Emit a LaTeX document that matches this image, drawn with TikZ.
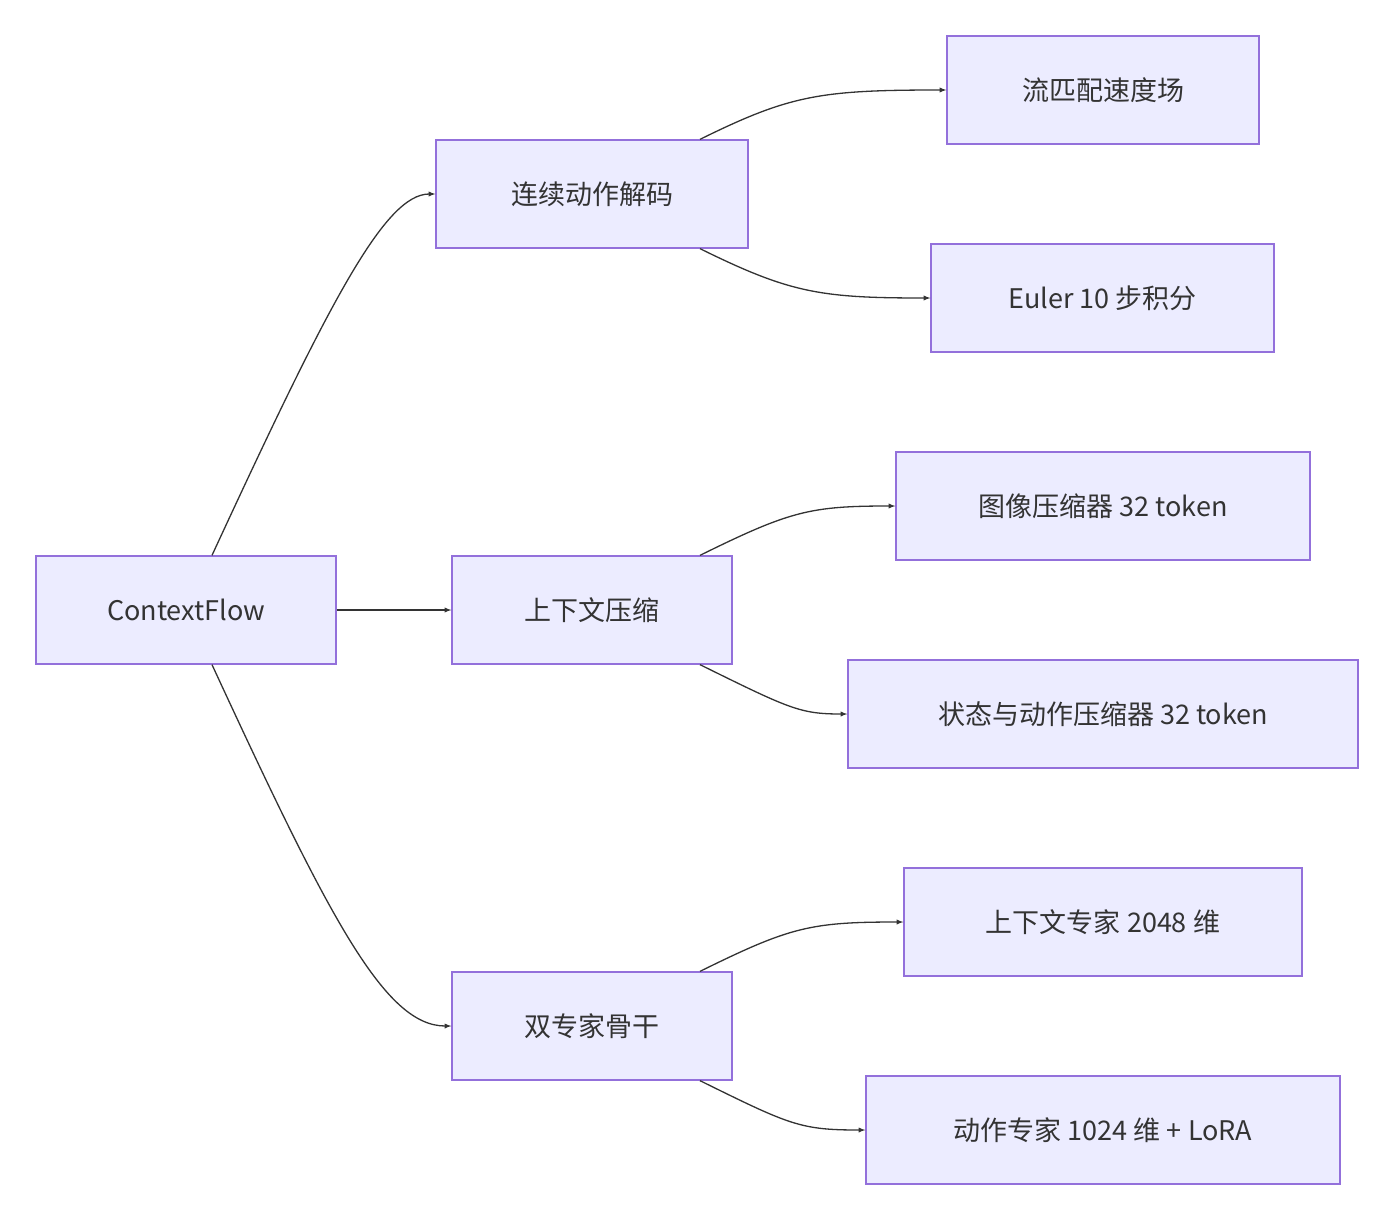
\documentclass[tikz,border=0pt]{standalone}
\usepackage{fontspec}
\setmainfont{Noto Sans CJK SC}
\usetikzlibrary{arrows,positioning}
\definecolor{boxfill}{HTML}{ECECFF}
\definecolor{boxline}{HTML}{9370DB}
\definecolor{linkcol}{HTML}{333333}
\begin{document}
\begin{tikzpicture}[x=1pt,y=-1pt]
	\tikzstyle{item}
	  =[draw=boxline, fill=boxfill, line width=1.3pt, rectangle,
	  minimum height=108pt, inner sep=0pt, text=linkcol,
	  font=\fontsize{27}{32}\selectfont]
	\tikzstyle{link}
	  =[-latex, draw=linkcol, line width=1.3pt]
	\useasboundingbox (0,0) rectangle (1394,1220);

	\node[item, minimum width=300pt] (cf)
	  at (186,610) {ContextFlow};
	\node[item, minimum width=312pt] (dec)
	  at (592,194) {连续动作解码};
	\node[item, minimum width=280pt] (ctx)
	  at (592,610) {上下文压缩};
	\node[item, minimum width=280pt] (bb)
	  at (592,1026) {双专家骨干};

	\node[item, minimum width=312pt] (flow)
	  at (1103,90) {流匹配速度场};
	\node[item, minimum width=343pt] (euler)
	  at (1102.5,298) {Euler 10 步积分};
	\node[item, minimum width=414pt] (img)
	  at (1103,506) {图像压缩器 32 token};
	\node[item, minimum width=510pt] (state)
	  at (1103,714) {状态与动作压缩器 32 token};
	\node[item, minimum width=398pt] (cexp)
	  at (1103,922) {上下文专家 2048 维};
	\node[item, minimum width=474pt] (aexp)
	  at (1103,1130) {动作专家 1024 维 + LoRA};

	\draw[link] ([xshift=26pt]cf.north) .. controls (330,300) and (385,194) .. (dec.west);
	\draw[link] (cf.east) -- (ctx.west);
	\draw[link] ([xshift=26pt]cf.south) .. controls (330,920) and (385,1026) .. (bb.west);

	\draw[link] ([xshift=108pt]dec.north) .. controls (790,95) and (820,90) .. (flow.west);
	\draw[link] ([xshift=108pt]dec.south) .. controls (790,293) and (820,298) .. (euler.west);
	\draw[link] ([xshift=108pt]ctx.north) .. controls (790,511) and (810,506) .. (img.west);
	\draw[link] ([xshift=108pt]ctx.south) .. controls (790,709) and (800,714) .. (state.west);
	\draw[link] ([xshift=108pt]bb.north) .. controls (790,927) and (810,922) .. (cexp.west);
	\draw[link] ([xshift=108pt]bb.south) .. controls (790,1125) and (800,1130) .. (aexp.west);
\end{tikzpicture}
\end{document}
